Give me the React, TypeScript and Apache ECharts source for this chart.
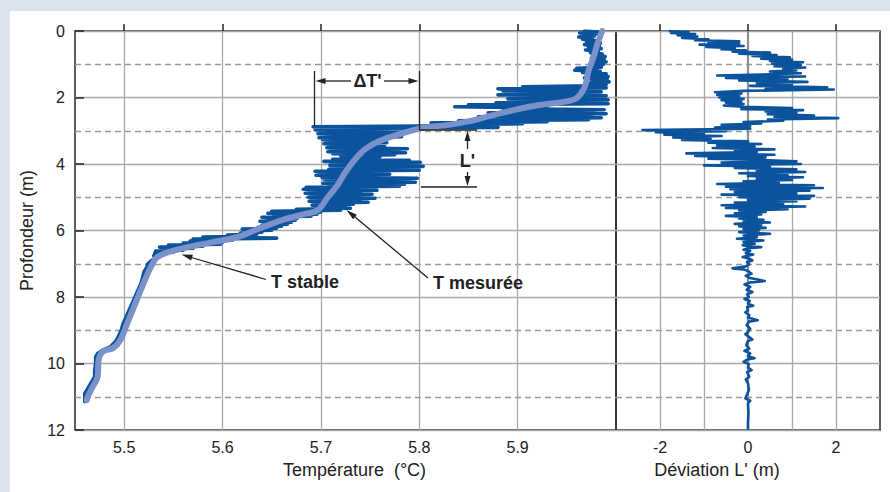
import React, { useEffect, useRef } from "react";
import * as echarts from "echarts";

// ---------- data ----------
const depthTicks = [0, 2, 4, 6, 8, 10, 12];
const dashedDepths = [1, 3, 5, 7, 9, 11];
const tempTicks = [5.5, 5.6, 5.7, 5.8, 5.9];
const devGridLines = [-2, -1, 1, 2];
const devTicks = [-2, 0, 2];

// T stable: [temperature °C, depth m]
const stableT: number[][] = [
  [5.986, 0], [5.981, 0.4], [5.977, 0.8], [5.972, 1.2], [5.969, 1.62], [5.964, 1.9],
  [5.958, 2.05], [5.943, 2.15], [5.923, 2.22], [5.896, 2.38], [5.872, 2.55], [5.85, 2.72],
  [5.828, 2.83], [5.801, 2.93], [5.778, 3.12], [5.76, 3.3], [5.745, 3.55], [5.735, 3.85],
  [5.725, 4.24], [5.717, 4.63], [5.707, 5.0], [5.697, 5.38], [5.68, 5.53], [5.659, 5.7],
  [5.638, 5.93], [5.615, 6.2], [5.59, 6.35], [5.564, 6.5], [5.544, 6.66], [5.533, 6.82],
  [5.527, 7.1], [5.521, 7.5], [5.514, 8.0], [5.503, 8.8], [5.496, 9.3], [5.489, 9.53],
  [5.478, 9.65], [5.474, 9.9], [5.473, 10.4], [5.468, 10.7], [5.463, 11.0], [5.462, 11.1],
];

// T mesurée: [temperature °C, depth m]
const measuredT: number[][] = [
  [5.968, 0.0], [5.982, 0.03], [5.963, 0.06], [5.98, 0.09], [5.965, 0.12], [5.978, 0.15],
  [5.962, 0.18], [5.976, 0.21], [5.966, 0.25], [5.98, 0.29], [5.97, 0.33], [5.984, 0.37],
  [5.968, 0.41], [5.983, 0.45], [5.972, 0.49], [5.985, 0.53], [5.969, 0.57], [5.982, 0.61],
  [5.974, 0.65], [5.986, 0.69], [5.976, 0.73], [5.989, 0.77], [5.975, 0.81], [5.988, 0.85],
  [5.978, 0.89], [5.99, 0.93], [5.976, 0.97], [5.987, 1.01], [5.979, 1.05], [5.985, 1.09],
  [5.96, 1.12], [5.98, 1.15], [5.958, 1.18], [5.984, 1.21], [5.966, 1.25], [5.99, 1.29],
  [5.972, 1.33], [5.992, 1.37], [5.968, 1.41], [5.991, 1.45], [5.975, 1.49], [5.993, 1.53],
  [5.97, 1.57], [5.99, 1.61], [5.975, 1.65], [5.905, 1.68], [5.99, 1.71], [5.88, 1.74],
  [5.96, 1.77], [5.885, 1.8], [5.985, 1.83], [5.895, 1.86], [5.955, 1.89], [5.88, 1.92],
  [5.99, 1.95], [5.9, 1.98], [5.96, 2.01], [5.89, 2.04], [5.992, 2.07], [5.91, 2.1],
  [5.965, 2.13], [5.878, 2.16], [5.992, 2.19], [5.85, 2.22], [5.915, 2.25], [5.836, 2.28],
  [5.93, 2.31], [5.9, 2.34], [5.988, 2.37], [5.885, 2.4], [5.978, 2.43], [5.87, 2.46],
  [5.99, 2.49], [5.88, 2.52], [5.975, 2.55], [5.86, 2.58], [5.985, 2.61], [5.88, 2.64],
  [5.972, 2.67], [5.84, 2.7], [5.93, 2.73], [5.812, 2.76], [5.905, 2.79], [5.82, 2.82],
  [5.88, 2.84], [5.8, 2.86], [5.692, 2.88], [5.88, 2.9], [5.7, 2.92], [5.801, 2.94],
  [5.694, 2.97], [5.76, 3.0], [5.7, 3.03], [5.784, 3.06], [5.697, 3.09], [5.77, 3.12],
  [5.705, 3.15], [5.782, 3.18], [5.698, 3.21], [5.765, 3.24], [5.702, 3.27], [5.76, 3.3],
  [5.706, 3.33], [5.767, 3.36], [5.703, 3.39], [5.755, 3.42], [5.708, 3.45], [5.765, 3.48],
  [5.706, 3.51], [5.788, 3.54], [5.71, 3.57], [5.78, 3.6], [5.707, 3.63], [5.786, 3.66],
  [5.712, 3.69], [5.775, 3.72], [5.72, 3.75], [5.76, 3.78], [5.74, 3.82], [5.712, 3.86],
  [5.79, 3.89], [5.703, 3.92], [5.801, 3.95], [5.71, 3.98], [5.795, 4.01], [5.709, 4.04],
  [5.804, 4.07], [5.712, 4.1], [5.79, 4.13], [5.708, 4.16], [5.8, 4.19], [5.694, 4.22],
  [5.76, 4.25], [5.698, 4.28], [5.77, 4.31], [5.695, 4.34], [5.75, 4.37], [5.701, 4.4],
  [5.798, 4.43], [5.703, 4.46], [5.79, 4.49], [5.706, 4.52], [5.796, 4.55], [5.702, 4.58],
  [5.785, 4.61], [5.708, 4.64], [5.78, 4.67], [5.685, 4.7], [5.745, 4.73], [5.682, 4.76],
  [5.757, 4.79], [5.688, 4.82], [5.74, 4.85], [5.684, 4.88], [5.752, 4.91], [5.69, 4.94],
  [5.735, 4.97], [5.687, 5.0], [5.755, 5.03], [5.69, 5.06], [5.74, 5.09], [5.688, 5.12],
  [5.748, 5.15], [5.692, 5.18], [5.733, 5.21], [5.691, 5.24], [5.725, 5.27], [5.695, 5.3],
  [5.73, 5.33], [5.675, 5.36], [5.72, 5.39], [5.65, 5.42], [5.7, 5.45], [5.646, 5.48],
  [5.696, 5.51], [5.652, 5.54], [5.69, 5.57], [5.64, 5.6], [5.676, 5.63], [5.645, 5.66],
  [5.674, 5.69], [5.638, 5.72], [5.67, 5.75], [5.642, 5.78], [5.666, 5.81], [5.64, 5.84],
  [5.66, 5.87], [5.636, 5.9], [5.655, 5.93], [5.62, 5.96], [5.65, 5.99], [5.622, 6.02],
  [5.64, 6.05], [5.618, 6.08], [5.635, 6.11], [5.605, 6.14], [5.63, 6.17], [5.58, 6.2],
  [5.655, 6.23], [5.57, 6.26], [5.61, 6.29], [5.567, 6.32], [5.6, 6.35], [5.56, 6.38],
  [5.598, 6.41], [5.545, 6.44], [5.58, 6.47], [5.536, 6.5], [5.57, 6.53], [5.54, 6.56],
  [5.56, 6.59], [5.532, 6.62], [5.55, 6.65], [5.531, 6.68], [5.54, 6.72], [5.53, 6.76],
  [5.533, 6.8], [5.528, 6.9], [5.524, 7.0], [5.523, 7.1], [5.52, 7.25], [5.519, 7.4],
  [5.517, 7.6], [5.514, 7.8], [5.511, 8.0], [5.508, 8.2], [5.505, 8.4], [5.502, 8.6],
  [5.499, 8.8], [5.497, 9.0], [5.494, 9.2], [5.491, 9.35], [5.486, 9.5], [5.478, 9.6],
  [5.473, 9.7], [5.471, 9.8], [5.471, 10.0], [5.47, 10.2], [5.47, 10.4], [5.466, 10.6],
  [5.462, 10.8], [5.46, 10.9], [5.46, 11.0], [5.46, 11.15],
];

// Déviation L': [deviation m, depth m]
const deviationL: number[][] = [
  [-1.8, 0.0], [-1.35, 0.03], [-1.75, 0.06], [-1.2, 0.09], [-1.6, 0.13], [-1.15, 0.17],
  [-1.5, 0.21], [-0.9, 0.25], [-1.2, 0.28], [-0.2, 0.31], [-0.9, 0.34], [-0.2, 0.38],
  [-1.1, 0.41], [-0.1, 0.45], [-0.95, 0.48], [-0.3, 0.52], [-0.6, 0.55], [-0.05, 0.58],
  [-0.35, 0.62], [0.5, 0.65], [-0.2, 0.68], [0.65, 0.72], [0.1, 0.75], [0.95, 0.79],
  [0.3, 0.83], [1.0, 0.86], [0.5, 0.9], [1.25, 0.94], [0.55, 0.98], [1.2, 1.02],
  [0.6, 1.06], [1.3, 1.1], [0.8, 1.14], [1.1, 1.18], [0.5, 1.22], [1.2, 1.27],
  [0.3, 1.31], [-0.7, 1.34], [1.3, 1.37], [-0.5, 1.41], [0.9, 1.45], [-0.2, 1.49],
  [1.35, 1.53], [0.2, 1.57], [1.0, 1.61], [0.05, 1.65], [1.8, 1.69], [0.4, 1.73],
  [1.95, 1.76], [-0.1, 1.8], [-0.75, 1.84], [-0.15, 1.88], [-0.7, 1.92], [-0.2, 1.96],
  [-0.65, 2.0], [-0.1, 2.04], [-0.6, 2.08], [-0.15, 2.12], [-0.5, 2.16], [-0.1, 2.2],
  [-0.55, 2.24], [-0.15, 2.28], [1.0, 2.32], [-0.15, 2.35], [1.25, 2.38], [0.4, 2.42],
  [1.1, 2.46], [0.45, 2.5], [1.5, 2.54], [0.6, 2.58], [2.05, 2.62], [0.45, 2.66],
  [0.8, 2.7], [-0.1, 2.74], [0.3, 2.78], [-0.6, 2.82], [0.05, 2.86], [-0.75, 2.9],
  [0.05, 2.94], [-2.4, 2.98], [-0.5, 3.01], [-2.1, 3.04], [-1.0, 3.08], [-1.9, 3.12],
  [-0.6, 3.16], [-1.7, 3.2], [-0.85, 3.24], [-1.5, 3.28], [0.0, 3.32], [-0.9, 3.36],
  [0.3, 3.4], [-0.7, 3.44], [0.15, 3.48], [-0.8, 3.52], [0.6, 3.56], [-0.3, 3.6],
  [0.2, 3.64], [-1.4, 3.68], [0.6, 3.72], [-1.2, 3.76], [0.4, 3.8], [-0.9, 3.84],
  [0.3, 3.88], [1.1, 3.92], [-0.6, 3.96], [1.2, 4.0], [-1.0, 4.04], [0.5, 4.08],
  [-0.3, 4.12], [1.1, 4.16], [0.2, 4.2], [1.3, 4.24], [-0.2, 4.28], [0.9, 4.32],
  [0.0, 4.36], [1.25, 4.4], [0.2, 4.44], [1.0, 4.48], [-0.1, 4.52], [0.7, 4.56],
  [-0.7, 4.6], [1.5, 4.64], [-0.5, 4.68], [1.7, 4.72], [-0.4, 4.76], [1.4, 4.8],
  [-0.3, 4.84], [1.1, 4.88], [-0.6, 4.92], [1.5, 4.96], [-0.2, 5.0], [1.4, 5.04],
  [0.0, 5.08], [1.1, 5.12], [-0.3, 5.16], [0.8, 5.2], [-0.6, 5.24], [1.3, 5.28],
  [-0.5, 5.32], [0.9, 5.36], [-0.2, 5.4], [0.4, 5.44], [-0.3, 5.48], [0.3, 5.52],
  [-0.5, 5.56], [0.2, 5.6], [-0.2, 5.64], [0.35, 5.68], [-0.1, 5.72], [0.5, 5.76],
  [-0.3, 5.8], [0.3, 5.84], [-0.2, 5.88], [0.4, 5.92], [-0.1, 5.96], [0.25, 6.0],
  [-0.2, 6.05], [0.5, 6.1], [-0.1, 6.15], [0.2, 6.2], [-0.25, 6.25], [0.35, 6.3],
  [-0.1, 6.35], [0.15, 6.4], [-0.12, 6.44], [0.05, 6.48], [0.3, 6.5], [0.0, 6.53],
  [-0.1, 6.58], [0.05, 6.62], [-0.05, 6.68], [0.12, 6.72], [0.0, 6.76], [-0.12, 6.8],
  [0.02, 6.84], [0.1, 6.9], [-0.02, 6.95], [0.03, 7.02], [-0.05, 7.08], [-0.35, 7.14],
  [-0.1, 7.17], [0.0, 7.22], [0.08, 7.3], [-0.05, 7.36], [0.02, 7.42], [0.38, 7.52],
  [0.05, 7.56], [-0.08, 7.62], [0.05, 7.7], [-0.03, 7.78], [0.1, 7.85], [-0.02, 7.92],
  [0.02, 8.0], [-0.08, 8.06], [0.04, 8.12], [0.0, 8.2], [0.12, 8.26], [-0.02, 8.3],
  [0.0, 8.4], [-0.06, 8.46], [0.03, 8.55], [0.0, 8.62], [0.22, 8.7], [0.02, 8.74],
  [-0.03, 8.85], [0.05, 8.95], [0.0, 9.05], [-0.06, 9.12], [0.02, 9.2], [0.1, 9.28],
  [0.0, 9.32], [-0.04, 9.45], [0.03, 9.55], [-0.08, 9.62], [0.05, 9.7], [0.0, 9.78],
  [0.15, 9.84], [-0.02, 9.88], [-0.1, 9.95], [0.02, 10.02], [0.0, 10.12], [0.08, 10.2],
  [-0.02, 10.26], [0.03, 10.4], [-0.05, 10.48], [0.0, 10.6], [0.02, 10.8], [-0.06, 11.05],
  [0.05, 11.12], [0.0, 11.2], [0.01, 11.5], [0.0, 11.8], [0.0, 12.0],
];

// ---------- style ----------
const FONT = "'Liberation Sans', Arial, Helvetica, sans-serif";
const TEXT = "#222222";
const DARK_BLUE = "#0b539c";
const LIGHT_BLUE = "#7b91c9";
const GRID_GRAY = "#a9a9a9";

function arrowHead(tipX: number, tipY: number, fromX: number, fromY: number, len = 10, half = 3) {
  const dx = tipX - fromX;
  const dy = tipY - fromY;
  const l = Math.hypot(dx, dy);
  const ux = dx / l;
  const uy = dy / l;
  const bx = tipX - ux * len;
  const by = tipY - uy * len;
  return [
    [tipX, tipY],
    [bx - uy * half, by + ux * half],
    [bx + uy * half, by - ux * half],
  ];
}

function lineEl(x1: number, y1: number, x2: number, y2: number, w = 1.3) {
  return { type: "line", shape: { x1, y1, x2, y2 }, style: { stroke: TEXT, lineWidth: w }, z: 20 };
}
function polyEl(points: number[][]) {
  return { type: "polygon", shape: { points }, style: { fill: TEXT }, z: 20 };
}
function textEl(text: string, x: number, y: number, align: string, size = 18) {
  return {
    type: "text",
    x,
    y,
    z: 21,
    style: {
      text,
      font: `bold ${size}px ${FONT}`,
      fill: TEXT,
      textAlign: align,
      textVerticalAlign: "middle",
      align,
      verticalAlign: "middle",
    },
  };
}

export default function App() {
  const ref = useRef<HTMLDivElement>(null);

  useEffect(() => {
    if (!ref.current) return;
    const chart = echarts.init(ref.current, undefined, { renderer: "svg" });

    const hGridDashed = dashedDepths.map((d) => ({
      yAxis: d,
      lineStyle: { type: [6, 4], color: "#9a9a9a", width: 1.3 },
    }));

    const graphic: any[] = [
      // ΔT'
      lineEl(314.5, 71, 314.5, 126),
      lineEl(419.5, 71, 419.5, 130),
      lineEl(322, 81, 351, 81),
      polyEl(arrowHead(315.5, 81, 330, 81)),
      lineEl(384, 81, 411, 81),
      polyEl(arrowHead(418.5, 81, 400, 81)),
      textEl("ΔT'", 367.5, 81, "center"),
      // L'
      lineEl(419.5, 130, 477, 130),
      lineEl(421, 187, 477, 187),
      lineEl(467.5, 138, 467.5, 149),
      polyEl(arrowHead(467.5, 131, 467.5, 145)),
      lineEl(467.5, 172, 467.5, 180),
      polyEl(arrowHead(467.5, 186, 467.5, 172)),
      textEl("L'", 467.5, 161, "center"),
      // T stable
      lineEl(266, 279.5, 188, 256.5),
      polyEl(arrowHead(181.5, 254.5, 266, 279.5, 11, 3)),
      textEl("T stable", 271, 282, "left"),
      // T mesurée
      lineEl(428, 278, 352, 214.5),
      polyEl(arrowHead(346.5, 210, 428, 278, 11, 3)),
      textEl("T mesurée", 433, 283, "left"),
    ];

    const markLineBase = {
      silent: true,
      animation: false,
      z: 1,
      zlevel: 0,
      symbol: ["none", "none"],
      label: { show: false },
      emphasis: { disabled: true },
    };

    const option: any = {
      animation: false,
      textStyle: { fontFamily: FONT },
      graphic,
      grid: [
        { left: 75, top: 31, width: 541, height: 399, show: true, borderColor: "#2a2a2a", borderWidth: 1.5, backgroundColor: "transparent" },
        { left: 616, top: 31, width: 264, height: 399, show: true, borderColor: "#2a2a2a", borderWidth: 1.5, backgroundColor: "transparent" },
      ],
      xAxis: [
        {
          type: "value",
          gridIndex: 0,
          min: 5.45,
          max: 6.0,
          axisLine: { show: false },
          splitLine: { show: false },
          axisTick: { show: true, inside: true, length: 7, customValues: tempTicks, lineStyle: { color: TEXT, width: 1.5 } },
          axisLabel: {
            customValues: tempTicks,
            formatter: (v: number) => v.toFixed(1),
            fontSize: 16,
            color: TEXT,
            margin: 9,
            fontFamily: FONT,
          },
          name: "Température  (°C)",
          nameLocation: "middle",
          nameGap: 31,
          nameTextStyle: { fontSize: 18, color: TEXT, fontFamily: FONT, padding: [0, 0, 0, 18] },
        },
        {
          type: "value",
          gridIndex: 1,
          min: -3,
          max: 3,
          axisLine: { show: false },
          splitLine: { show: false },
          axisTick: { show: true, inside: true, length: 7, customValues: devTicks, lineStyle: { color: TEXT, width: 1.5 } },
          axisLabel: { customValues: devTicks, fontSize: 16, color: TEXT, margin: 9, fontFamily: FONT },
          name: "Déviation L' (m)",
          nameLocation: "middle",
          nameGap: 31,
          nameTextStyle: { fontSize: 18, color: TEXT, fontFamily: FONT, padding: [0, 62, 0, 0] },
        },
      ],
      yAxis: [
        {
          type: "value",
          gridIndex: 0,
          inverse: true,
          min: 0,
          max: 12,
          interval: 2,
          axisLine: { show: false },
          axisTick: { show: true, inside: true, length: 9, lineStyle: { color: TEXT, width: 1.5 } },
          splitLine: { show: true, lineStyle: { color: GRID_GRAY, width: 1.3 } },
          axisLabel: { fontSize: 16, color: TEXT, margin: 10, fontFamily: FONT, customValues: depthTicks },
          name: "Profondeur (m)",
          nameLocation: "middle",
          nameGap: 30,
          nameRotate: 90,
          nameTextStyle: { fontSize: 18, color: TEXT, fontFamily: FONT },
        },
        {
          type: "value",
          gridIndex: 1,
          inverse: true,
          min: 0,
          max: 12,
          interval: 2,
          axisLine: { show: false },
          axisTick: { show: false },
          axisLabel: { show: false },
          splitLine: { show: true, lineStyle: { color: GRID_GRAY, width: 1.3 } },
        },
      ],
      series: [
        {
          type: "line",
          xAxisIndex: 0,
          yAxisIndex: 0,
          data: [],
          silent: true,
          z: 1,
          markLine: {
            ...markLineBase,
            data: [
              ...hGridDashed,
              ...tempTicks.map((t) => ({ xAxis: t, lineStyle: { type: "solid", color: GRID_GRAY, width: 1.3 } })),
            ],
          },
        },
        {
          type: "line",
          xAxisIndex: 1,
          yAxisIndex: 1,
          data: [],
          silent: true,
          z: 1,
          markLine: {
            ...markLineBase,
            data: [
              ...hGridDashed,
              ...devGridLines.map((t) => ({ xAxis: t, lineStyle: { type: "solid", color: GRID_GRAY, width: 1.3 } })),
              { xAxis: 0, lineStyle: { type: "solid", color: "#8f8f8f", width: 2.2 } },
            ],
          },
        },
        {
          name: "T mesurée",
          type: "line",
          xAxisIndex: 0,
          yAxisIndex: 0,
          data: measuredT,
          symbol: "none",
          silent: true,
          z: 10,
          lineStyle: { color: DARK_BLUE, width: 3.6, join: "round", cap: "round" },
        },
        {
          name: "T stable",
          type: "line",
          xAxisIndex: 0,
          yAxisIndex: 0,
          data: stableT,
          symbol: "none",
          smooth: 0.3,
          silent: true,
          z: 11,
          lineStyle: { color: LIGHT_BLUE, width: 6, join: "round", cap: "round" },
        },
        {
          name: "Déviation L'",
          type: "line",
          xAxisIndex: 1,
          yAxisIndex: 1,
          data: deviationL,
          symbol: "none",
          silent: true,
          z: 10,
          lineStyle: { color: DARK_BLUE, width: 2.6, join: "round" },
        },
      ],
    };

    chart.setOption(option);
    return () => chart.dispose();
  }, []);

  return (
    <div style={{ position: "fixed", left: 0, top: 0, width: 890, height: 492, background: "#dfe5f0" }}>
      <div style={{ position: "absolute", left: 10, top: 11, width: 880, height: 481, background: "#ffffff" }} />
      <div ref={ref} style={{ position: "absolute", left: 0, top: 0, width: 890, height: 492 }} />
    </div>
  );
}
